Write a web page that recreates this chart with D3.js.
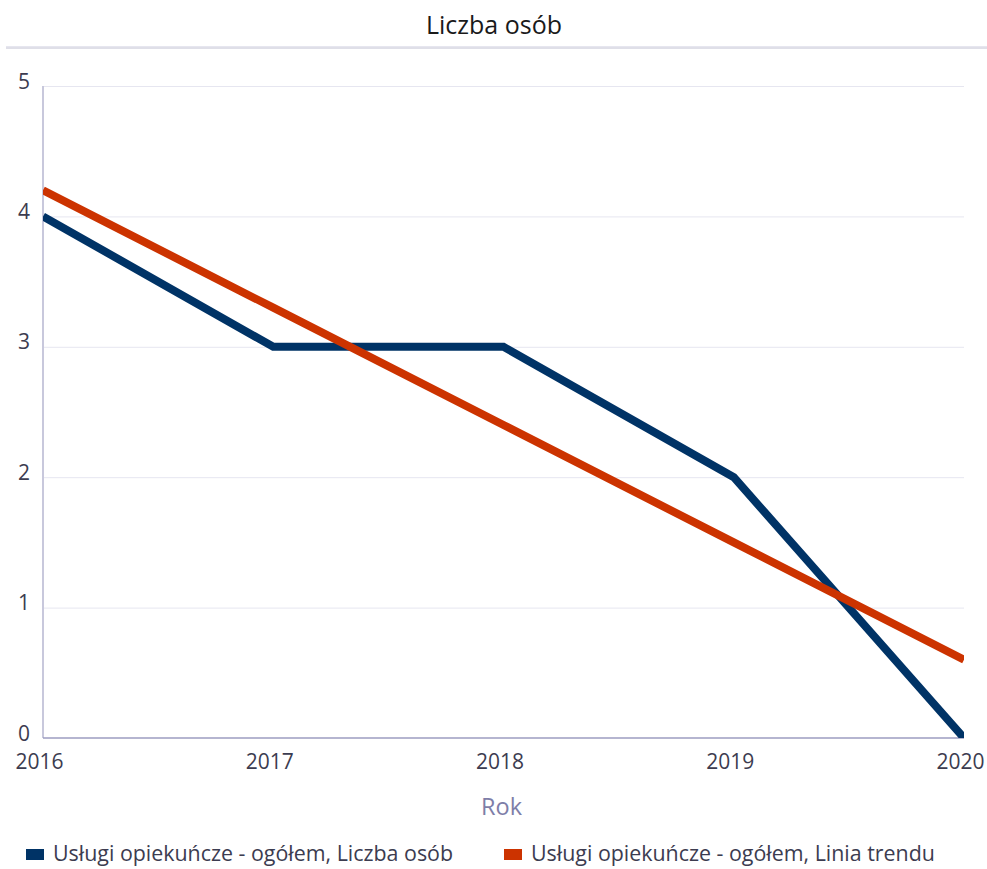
<!DOCTYPE html>
<html><head><meta charset="utf-8">
<script src="https://cdn.jsdelivr.net/npm/d3@7"></script>
<style>body{margin:0;background:#fff}svg{display:block}</style>
</head><body>
<svg id="c" width="987" height="869"></svg>
<script>
const years = ["2016","2017","2018","2019","2020"];
const liczbaOsob = [4, 3, 3, 2, 0];
const liniaTrendu = [4.2, 3.3, 2.4, 1.5, 0.6];
const yTicks = [0,1,2,3,4,5];
const seriesNames = ["Usługi opiekuńcze - ogółem, Liczba osób", "Usługi opiekuńcze - ogółem, Linia trendu"];
const colors = ["#003366", "#cc3300"];
const title = "Liczba osób";
const xTitle = "Rok";

const svg = d3.select("#c");
const m = {l:43, r:964, t:86, b:738};
const x = d3.scalePoint().domain(years).range([m.l, m.r]);
const y = d3.scaleLinear().domain([0,5]).range([m.b, m.t]);
const font = "'Open Sans', 'Noto Sans', sans-serif";

svg.append("text").attr("x", 494).attr("y", 34).attr("text-anchor","middle")
  .attr("font-family",font).attr("font-size",25).attr("fill","#1a1a1a").text(title);
svg.append("line").attr("x1",6).attr("x2",987).attr("y1",46.5).attr("y2",46.5).attr("stroke","#e6e6ef").attr("stroke-width",1);
svg.append("line").attr("x1",6).attr("x2",987).attr("y1",48).attr("y2",48).attr("stroke","#d4d4e0").attr("stroke-width",1.5);

// grid
svg.append("g").selectAll("line").data(yTicks.slice(1)).join("line")
  .attr("x1",m.l).attr("x2",m.r).attr("y1",d=>y(d)+0.5).attr("y2",d=>y(d)+0.5)
  .attr("stroke","#e6e6f0").attr("stroke-width",1);

// y axis
const ya = svg.append("g").attr("transform",`translate(${m.l},0)`)
  .call(d3.axisLeft(y).tickValues(yTicks).tickFormat(d3.format("d")).tickSize(0).tickPadding(13));
ya.attr("font-size",null).attr("font-family",null);
ya.select(".domain").attr("stroke","#c8c8dc").attr("stroke-width",2).attr("d",`M0,${m.t}V${m.b}`);
ya.selectAll("text").attr("font-family",font).attr("font-size",21).attr("fill","#3c3c50").attr("dy","0.1em");

// x axis
const xa = svg.append("g").attr("transform",`translate(0,${m.b})`).call(d3.axisBottom(x).tickSize(0).tickPadding(16));
xa.attr("font-size",null).attr("font-family",null);
xa.select(".domain").attr("stroke","#9c9cc0").attr("stroke-width",1.5).attr("d",`M${m.l},0H${m.r}`);
xa.selectAll("text").attr("font-family",font).attr("font-size",21).attr("fill","#3c3c50").attr("dx",-4);

svg.append("text").attr("x",(m.l+m.r)/2-2).attr("y",815).attr("text-anchor","middle")
  .attr("font-family",font).attr("font-size",23.5).attr("fill","#7e7ea8").text(xTitle);

svg.append("clipPath").attr("id","clip").append("rect").attr("x",m.l).attr("y",m.t-10).attr("width",m.r-m.l).attr("height",m.b-m.t+10);
const line = d3.line().x((d,i)=>x(years[i])).y(d=>y(d));
const g = svg.append("g").attr("clip-path","url(#clip)");
[liczbaOsob, liniaTrendu].forEach((s,i)=>{
  g.append("path").attr("d",line(s)).attr("fill","none").attr("stroke",colors[i]).attr("stroke-width",8)
    .attr("stroke-linejoin","miter").attr("stroke-linecap","butt");
});

// legend
const legX = [26, 504];
seriesNames.forEach((n,i)=>{
  svg.append("rect").attr("x",legX[i]).attr("y",849).attr("width",18).attr("height",11).attr("fill",colors[i]);
  svg.append("text").attr("x",legX[i]+27).attr("y",861).attr("font-family",font).attr("font-size",21.4).attr("fill","#3c3c50").text(n);
});
</script>
</body></html>
